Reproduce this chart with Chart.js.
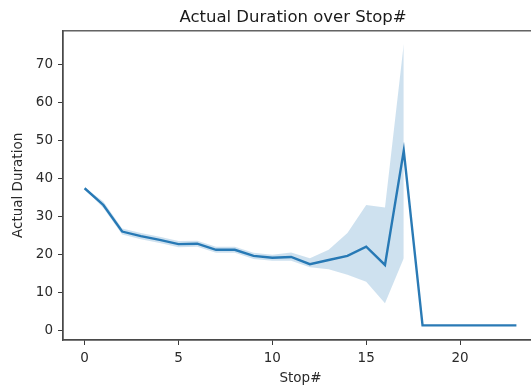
<!DOCTYPE html>
<html>
<head>
<meta charset="utf-8">
<script src="https://cdn.jsdelivr.net/npm/chart.js@4"></script>
<style>
html,body{margin:0;padding:0;background:#fff;overflow:hidden;width:531px;height:385px;}
canvas{display:block;}
</style>
</head>
<body>
<canvas id="c" width="586" height="385" style="width:586px;height:385px"></canvas>
<script>
const stops = [0,1,2,3,4,5,6,7,8,9,10,11,12,13,14,15,16,17,18,19,20,21,22,23];
const meanDuration = [37.5,33.1,26.1,24.9,23.9,22.8,22.9,21.3,21.3,19.7,19.2,19.4,17.5,18.6,19.7,22.1,17.3,47.4,1.4,1.4,1.4,1.4,1.4,1.4];
const ciLower = [37.3,32.3,25.3,24.1,23.1,22.0,22.1,20.5,20.5,18.9,18.4,18.4,16.7,16.2,14.7,12.9,7.2,19.1,null,null,null,null,null,null];
const ciUpper = [37.7,34.0,26.9,25.7,24.7,23.6,23.7,22.1,22.1,20.5,20.0,20.6,19.1,21.3,25.7,33.1,32.4,75.5,null,null,null,null,null,null];
const xTicks = [0,5,10,15,20];
const yTicks = [0,10,20,30,40,50,60,70];

const pts = arr => stops.map((s,i)=>({x:s,y:arr[i]}));
const FONT = "'DejaVu Sans', sans-serif";
const AXC = '#3a3a3a';

const frame = {
  id:'frame',
  afterDatasetsDraw(chart){
    const {ctx, chartArea:a} = chart;
    ctx.save();
    ctx.strokeStyle = '#4a4a4a';
    ctx.lineWidth = 1.3;
    ctx.strokeRect(a.left, a.top, a.right-a.left, a.bottom-a.top);
    ctx.restore();
  }
};

new Chart(document.getElementById('c'), {
  type:'line',
  data:{
    datasets:[
      {label:'lower', data:pts(ciLower), borderWidth:0, pointRadius:0, fill:false, borderColor:'rgba(0,0,0,0)', spanGaps:false},
      {label:'upper', data:pts(ciUpper), borderWidth:0, pointRadius:0, fill:'-1', borderColor:'rgba(0,0,0,0)', backgroundColor:'rgba(31,119,180,0.22)', spanGaps:false},
      {label:'Actual Duration', data:pts(meanDuration), borderColor:'#2a7ab5', borderWidth:2.4, pointRadius:0, fill:false, tension:0}
    ]
  },
  options:{
    responsive:false,
    animation:false,
    layout:{padding:0},
    plugins:{
      legend:{display:false},
      tooltip:{enabled:false},
      title:{display:true, text:'Actual Duration over Stop#', color:'#1a1a1a',
        font:{family:FONT, size:16.5, weight:'normal'}, padding:{top:8,bottom:3}}
    },
    scales:{
      x:{type:'linear', min:-1.15, max:24.15,
        afterBuildTicks(s){ s.ticks = xTicks.map(v=>({value:v})); },
        afterFit(s){ s.height = 45; },
        grid:{display:true, drawOnChartArea:false, drawTicks:true, tickLength:5, color:AXC, lineWidth:1},
        border:{display:true, color:'#4a4a4a', width:1.3},
        ticks:{color:'#2a2a2a', font:{family:FONT, size:13.5}, padding:5, maxRotation:0},
        title:{display:true, text:'Stop#', color:'#2a2a2a', font:{family:FONT, size:13.5}, padding:{top:0,bottom:-1.5}}
      },
      y:{type:'linear', position:'left', min:-2.45, max:78.95,
        afterBuildTicks(s){ s.ticks = yTicks.map(v=>({value:v})); },
        afterFit(s){ s.width = 63; },
        grid:{display:true, drawOnChartArea:false, drawTicks:true, tickLength:5, color:AXC, lineWidth:1},
        border:{display:true, color:'#4a4a4a', width:1.3},
        ticks:{color:'#2a2a2a', font:{family:FONT, size:13.5}, padding:5},
        title:{display:true, text:'Actual Duration', color:'#2a2a2a', font:{family:FONT, size:13.5}, padding:{top:10,bottom:0}}
      },
      yR:{type:'linear', position:'right', min:0, max:1, display:true,
        afterFit(s){ s.width = 48; },
        grid:{display:false}, border:{display:false}, ticks:{display:false}, title:{display:false}
      }
    }
  },
  plugins:[frame]
});
</script>
</body>
</html>
